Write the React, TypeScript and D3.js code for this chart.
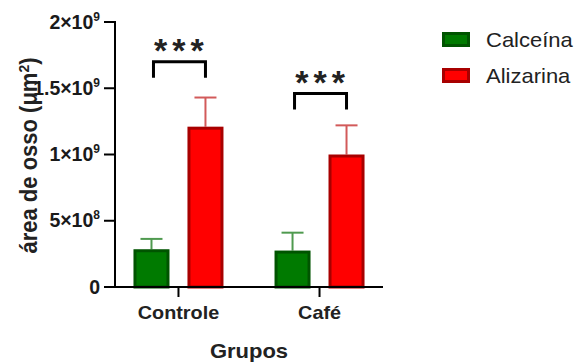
import React from 'react';
import * as d3 from 'd3';

const groups = ['Controle', 'Café'];
const series = ['Calceína', 'Alizarina'];
const calceinaMean = [2.85e8, 2.75e8];
const calceinaSem = [0.78e8, 1.35e8];
const alizarinaMean = [1.21e9, 1.0e9];
const alizarinaSem = [0.22e9, 0.22e9];
const sigLevel = [1.7e9, 1.46e9]; // bracket heights, per group
const sigLabel = ['***', '***'];
const yTicks = [0, 5e8, 1e9, 1.5e9, 2e9];
const yTickText = [['0', ''], ['5×10', '8'], ['1×10', '9'], ['1.5×10', '9'], ['2×10', '9']];

const colors = {
  'Calceína': { fill: '#007a00', stroke: '#005400', err: '#4f9a4f' },
  'Alizarina': { fill: '#ff0000', stroke: '#a80000', err: '#d25a5a' },
};

const W = 575, H = 362;
const margin = { top: 22, left: 115, bottom: 75, right: 192 };
const sx = 'scale(1.1,1)';

export default function App() {
  const y = d3.scaleLinear().domain([0, 2e9]).range([H - margin.bottom, margin.top]);
  const x = d3.scalePoint().domain(groups).range([margin.left, W - margin.right]).padding(0.45);
  const inner = d3.scaleBand().domain(series).range([-54, 54]).paddingInner(0.333).paddingOuter(0.1667);
  const bw = inner.bandwidth();

  const rows = groups.flatMap((g, i) => [
    { g, s: 'Calceína', v: calceinaMean[i], e: calceinaSem[i] },
    { g, s: 'Alizarina', v: alizarinaMean[i], e: alizarinaSem[i] },
  ]);

  const font = 'Arial, "Liberation Sans", sans-serif';
  const x0 = margin.left;
  const y0 = y(0);

  return (
    <svg width={W} height={H} style={{ position: 'absolute', left: 0, top: 0, background: '#fff' }} fontFamily={font}>
      {/* bars */}
      {rows.map((d, i) => {
        const cx = (x(d.g) as number) + (inner(d.s) as number) + bw / 2;
        const c = colors[d.s];
        return (
          <g key={i}>
            <line x1={cx} x2={cx} y1={y(d.v)} y2={y(d.v + d.e)} stroke={c.err} strokeWidth={2} />
            <line x1={cx - 11} x2={cx + 11} y1={y(d.v + d.e)} y2={y(d.v + d.e)} stroke={c.err} strokeWidth={2} />
            <rect x={cx - bw / 2 + 1.5} y={y(d.v) + 1.5} width={bw - 3} height={y0 - y(d.v) - 1.5}
              fill={c.fill} stroke={c.stroke} strokeWidth={3} />
          </g>
        );
      })}

      {/* axes */}
      <line x1={x0} x2={x0} y1={y(2e9) - 1} y2={y0 + 1} stroke="#000" strokeWidth={2} />
      <line x1={x0 - 1} x2={W - margin.right} y1={y0} y2={y0} stroke="#000" strokeWidth={2} />
      {yTicks.map((t, i) => (
        <g key={t}>
          <line x1={x0 - 11} x2={x0} y1={y(t)} y2={y(t)} stroke="#000" strokeWidth={2} />
          <text transform={`translate(${x0 - 15},${y(t) + 6.5})`} textAnchor="end" fontSize={19.5} fontWeight="bold" fill="#1a1a1a">
            {yTickText[i][0]}
            {yTickText[i][1] && <tspan fontSize={12} dy={-8}>{yTickText[i][1]}</tspan>}
          </text>
        </g>
      ))}
      {groups.map(g => (
        <g key={g}>
          <line x1={x(g)} x2={x(g)} y1={y0} y2={y0 + 10} stroke="#000" strokeWidth={2} />
          <text transform={`translate(${x(g)},${y0 + 32}) ${sx}`} textAnchor="middle" fontSize={18} fontWeight="bold" fill="#222">{g}</text>
        </g>
      ))}

      {/* axis titles */}
      <text transform={`translate(${(x0 + W - margin.right) / 2},358) ${sx}`} textAnchor="middle" fontSize={20} fontWeight="bold" fill="#222">Grupos</text>
      <text transform={`translate(37,${(y(0) + y(2e9)) / 2 + 1}) rotate(-90) scale(1,1.05)`} textAnchor="middle" fontSize={22} fontWeight="bold" fill="#222">
        área de osso (μm<tspan fontSize={14} dy={-8}>2</tspan><tspan dy={8}>)</tspan>
      </text>

      {/* significance */}
      {groups.map((g, i) => {
        const xa = (x(g) as number) + (inner('Calceína') as number) + bw / 2 + 2;
        const xb = (x(g) as number) + (inner('Alizarina') as number) + bw / 2;
        const top = y(sigLevel[i]);
        return (
          <g key={g}>
            <path d={`M${xa},${top + 16}V${top}H${xb}V${top + 16}`} fill="none" stroke="#000" strokeWidth={3} />
            <text x={(xa + xb) / 2 + 2} y={top} textAnchor="middle" fontSize={34} fontWeight="bold" letterSpacing={5} fill="#222">{sigLabel[i]}</text>
          </g>
        );
      })}

      {/* legend */}
      {series.map((s, i) => (
        <g key={s} transform={`translate(442,${32 + i * 36})`}>
          <rect x={1.5} y={1.5} width={25} height={12} fill={colors[s].fill} stroke={colors[s].stroke} strokeWidth={3} />
          <text transform={`translate(44,15) ${sx}`} fontSize={20} fill="#222">{s}</text>
        </g>
      ))}
    </svg>
  );
}
